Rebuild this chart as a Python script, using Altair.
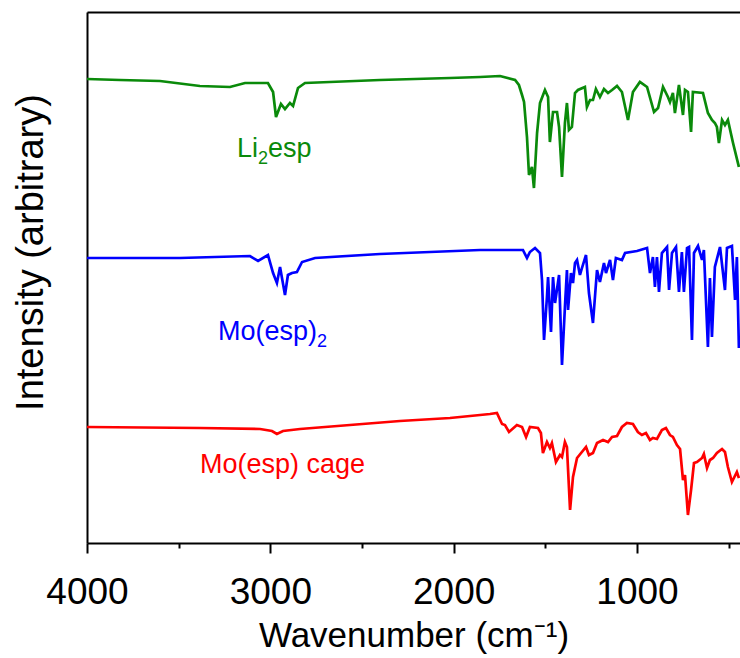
import altair as alt
import pandas as pd

FONT = "Liberation Sans"

# IR spectra, stacked with arbitrary vertical offsets (wavenumber in cm^-1)
li_wn = [4000, 3820, 3602, 3384, 3220, 3138, 3013, 2985, 2969, 2942, 2920, 2893, 2876, 2849, 2811,
         2675, 2402, 2020, 1856, 1747, 1665, 1644, 1627, 1616, 1600, 1589, 1573, 1562, 1545, 1529,
         1502, 1485, 1475, 1458, 1436, 1425, 1409, 1393, 1382, 1371, 1355, 1338, 1322, 1284, 1273,
         1256, 1240, 1224, 1202, 1180, 1158, 1136, 1109, 1082, 1049, 1022, 984, 945, 907, 885,
         858, 831, 820, 804, 793, 771, 749, 738, 722, 705, 695, 640, 613, 591, 575,
         564, 553, 536, 520, 504, 476, 444]
li_int = [464, 463, 462, 457, 456, 460, 460, 451, 426, 439, 434, 440, 437, 455, 460,
          461, 463, 465, 466, 467, 463, 458, 448, 441, 406, 368, 376, 355, 410, 440,
          453, 446, 401, 431, 431, 416, 366, 420, 440, 413, 416, 450, 453, 456, 436,
          443, 443, 454, 446, 454, 450, 453, 457, 451, 423, 451, 461, 456, 431, 435,
          456, 446, 441, 450, 430, 458, 428, 453, 451, 411, 451, 450, 430, 423, 420,
          416, 400, 423, 418, 423, 400, 376]

mo_wn = [4000, 3493, 3111, 3067, 3013, 2985, 2964, 2947, 2920, 2904, 2882, 2855, 2827, 2756, 2402,
         1856, 1622, 1600, 1584, 1556, 1529, 1518, 1507, 1491, 1485, 1469, 1458, 1447, 1425, 1409,
         1393, 1382, 1376, 1360, 1349, 1338, 1327, 1311, 1300, 1278, 1262, 1240, 1218, 1202, 1180,
         1169, 1147, 1131, 1115, 1082, 1065, 1000, 945, 929, 913, 902, 891, 880, 864, 836,
         825, 809, 787, 771, 755, 744, 727, 716, 700, 689, 667, 645, 635, 613, 602,
         591, 575, 547, 520, 509, 482, 465, 455, 444]
mo_int = [285, 285, 287, 282, 288, 270, 260, 276, 248, 268, 270, 271, 281, 285, 289,
          293, 293, 285, 291, 295, 290, 263, 203, 246, 266, 211, 266, 240, 268, 178,
          236, 273, 233, 270, 260, 280, 283, 268, 275, 288, 250, 220, 273, 261, 280,
          270, 283, 263, 285, 283, 290, 292, 295, 270, 286, 256, 286, 251, 290, 296,
          253, 290, 296, 251, 291, 251, 295, 296, 203, 290, 297, 283, 293, 196, 265,
          206, 276, 296, 253, 295, 297, 243, 286, 195]

cage_wn = [4000, 3384, 3056, 2991, 2964, 2931, 2838, 2293, 2020, 1856, 1802, 1764, 1736, 1720, 1698,
           1655, 1627, 1605, 1584, 1540, 1524, 1513, 1491, 1475, 1464, 1442, 1420, 1409, 1393, 1382,
           1365, 1349, 1327, 1278, 1262, 1240, 1218, 1185, 1158, 1136, 1109, 1082, 1055, 1022, 995,
           973, 951, 929, 913, 891, 864, 842, 820, 804, 782, 765, 749, 738, 722, 705,
           689, 673, 645, 635, 618, 602, 585, 564, 536, 520, 504, 482, 455, 444]
cage_int = [116, 115, 114, 112, 109, 112, 114, 122, 125, 128, 129, 130, 119, 118, 111,
            118, 116, 106, 116, 115, 110, 90, 101, 95, 100, 81, 88, 86, 101, 96,
            33, 66, 85, 96, 88, 90, 100, 103, 101, 106, 107, 116, 120, 119, 111,
            108, 110, 103, 105, 104, 113, 115, 108, 106, 98, 94, 63, 68, 28, 53,
            80, 81, 85, 89, 75, 83, 85, 90, 94, 91, 76, 61, 71, 65]

samples = ["Li2esp", "Mo(esp)2", "Mo(esp) cage"]
colors = ["#0a8a0a", "#0000ff", "#ff0000"]

# label pieces: regular text and subscript digits, each left-anchored at (wavenumber, intensity)
main_text = ["Li", "esp", "Mo(esp)", "Mo(esp) cage"]
main_sample = ["Li2esp", "Li2esp", "Mo(esp)2", "Mo(esp) cage"]
main_wn = [3182, 3013, 3285, 3384]
main_int = [386, 386, 203, 70]

sub_text = ["2", "2"]
sub_sample = ["Li2esp", "Mo(esp)2"]
sub_wn = [3067, 2745]
sub_int = [386, 203]

frames = [
    pd.DataFrame({"wavenumber": wn, "intensity": it, "sample": name})
    for name, wn, it in zip(samples, [li_wn, mo_wn, cage_wn], [li_int, mo_int, cage_int])
]
spectra = pd.concat(frames, ignore_index=True)
main_labels = pd.DataFrame({"wavenumber": main_wn, "intensity": main_int,
                            "sample": main_sample, "text": main_text})
sub_labels = pd.DataFrame({"wavenumber": sub_wn, "intensity": sub_int,
                           "sample": sub_sample, "text": sub_text})

x_scale = alt.Scale(domain=[438, 4000], reverse=True, nice=False, zero=False)
y_scale = alt.Scale(domain=[0, 531], nice=False, zero=False)
color_scale = alt.Scale(domain=samples, range=colors)

x_axis = alt.Axis(
    title="Wavenumber (cm⁻¹)",
    values=[4000, 3500, 3000, 2500, 2000, 1500, 1000, 500],
    format="d",
    labelExpr="datum.value % 1000 === 0 ? datum.label : ''",
    labelFlush=False,
    labelOverlap=False,
    tickSize={"condition": {"test": "datum.value % 1000 === 0", "value": 10}, "value": 5},
    tickWidth=2,
    tickColor="black",
    domainColor="black",
    domainWidth=2,
    grid=False,
    labelFont=FONT,
    labelFontSize=37,
    labelColor="black",
    labelPadding=21,
    titleFont=FONT,
    titleFontSize=35,
    titleFontWeight="normal",
    titleColor="black",
    titlePadding=8,
)

y_axis = alt.Axis(
    title="Intensity (arbitrary)",
    labels=False,
    ticks=False,
    grid=False,
    domainColor="black",
    domainWidth=2,
    titleFont=FONT,
    titleFontSize=38,
    titleFontWeight="normal",
    titleColor="black",
    titlePadding=37,
    titleY=240,
)

lines = alt.Chart(spectra).mark_line(strokeWidth=2.7, clip=True).encode(
    x=alt.X("wavenumber:Q", scale=x_scale, axis=x_axis),
    y=alt.Y("intensity:Q", scale=y_scale, axis=y_axis),
    color=alt.Color("sample:N", scale=color_scale, legend=None),
    order=alt.Order("wavenumber:Q", sort="descending"),
)

# top edge of the frame
top_edge = alt.Chart(spectra).mark_point(opacity=0).encode(
    x=alt.X(
        "wavenumber:Q",
        scale=x_scale,
        axis=alt.Axis(orient="top", labels=False, ticks=False, title=None, grid=False,
                      domainColor="black", domainWidth=2),
    ),
    y=alt.Y("intensity:Q", scale=y_scale),
)

main_text_layer = alt.Chart(main_labels).mark_text(
    font=FONT, fontSize=27, baseline="alphabetic", align="left"
).encode(
    x=alt.X("wavenumber:Q", scale=x_scale, axis=None),
    y=alt.Y("intensity:Q", scale=y_scale),
    text="text:N",
    color=alt.Color("sample:N", scale=color_scale, legend=None),
)

sub_text_layer = alt.Chart(sub_labels).mark_text(
    font=FONT, fontSize=18, baseline="alphabetic", align="left", dy=7
).encode(
    x=alt.X("wavenumber:Q", scale=x_scale, axis=None),
    y=alt.Y("intensity:Q", scale=y_scale),
    text="text:N",
    color=alt.Color("sample:N", scale=color_scale, legend=None),
)

chart = (
    alt.layer(lines, top_edge, main_text_layer, sub_text_layer)
    .resolve_axis(x="independent")
    .properties(
        width=653,
        height=531,
        autosize=alt.AutoSizeParams(type="none"),
        padding={"left": 87, "top": 12, "right": 0, "bottom": 115},
    )
    .configure_view(stroke=None)
    .configure(background="white")
)

chart.save("out.html", embed_options={"renderer": "svg", "actions": False})
